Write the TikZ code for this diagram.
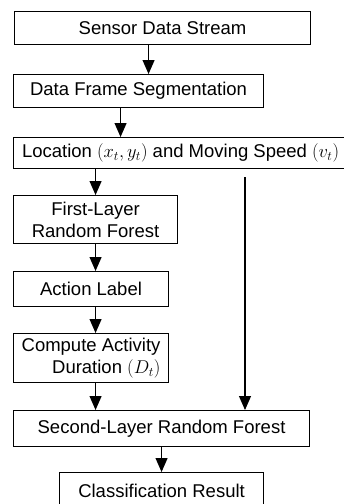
\RequirePackage{fix-cm}
\documentclass[tikz,border=0pt]{standalone}
\usepackage{fontspec}
\setmainfont{Liberation Sans}
\usetikzlibrary{arrows.meta,positioning}
\tikzset{
  every node/.style={font=\fontsize{18.5}{22}\selectfont, text=black},
  stage/.style={draw=black, line width=1.1pt, inner sep=0pt, anchor=north west},
  flow/.style={-{Triangle[length=14pt,width=12pt]}, draw=black, line width=1.1pt},
}
\begin{document}
\begin{tikzpicture}[x=1pt,y=-1pt]
  \useasboundingbox (0,0) rectangle (344,504);
  \clip (0,0) rectangle (344,504);
  \node[stage, minimum width=296, minimum height=33] (sensor) at (14,11) {Sensor Data Stream};
  \node[stage, minimum width=250, minimum height=33] (frame) at (13,74) {Data Frame Segmentation};
  \node[stage, minimum width=334, minimum height=31] (loc) at (13,137)
    {Location $(x_t, y_t)$ and Moving Speed $(v_t)$};
  \node[stage, minimum width=164, minimum height=48, align=center] (first) at (13,195)
    {First-Layer\\Random Forest};
  \node[stage, minimum width=155, minimum height=35] (action) at (13,271) {Action Label};
  \node[stage, minimum width=155, minimum height=49, align=right] (duration) at (13,333)
    {Compute Activity\\Duration $(D_t)$};
  \node[stage, minimum width=296, minimum height=36] (second) at (13,410) {Second-Layer Random Forest};
  \node[stage, minimum width=204, minimum height=36] (result) at (59,472) {Classification Result};
  \coordinate (tap) at (245,177);
  % main chain
  \draw[flow] ([xshift=-14]sensor.south) -- ([xshift=-14]sensor.south |- frame.north);
  \draw[flow] ([xshift=-18]frame.south) -- ([xshift=-18]frame.south |- loc.north);
  \draw[flow] (first.north |- loc.south) -- (first.north);
  \draw[flow] (first.south) -- (first.south |- action.north);
  \draw[flow] (first.south |- action.south) -- (first.south |- duration.north);
  \draw[flow] (first.south |- duration.south) -- (first.south |- second.north);
  \draw[flow] (second.south) -- (result.north);
  % side path
  \draw[flow] (tap) -- (tap |- second.north);
\end{tikzpicture}
\end{document}
